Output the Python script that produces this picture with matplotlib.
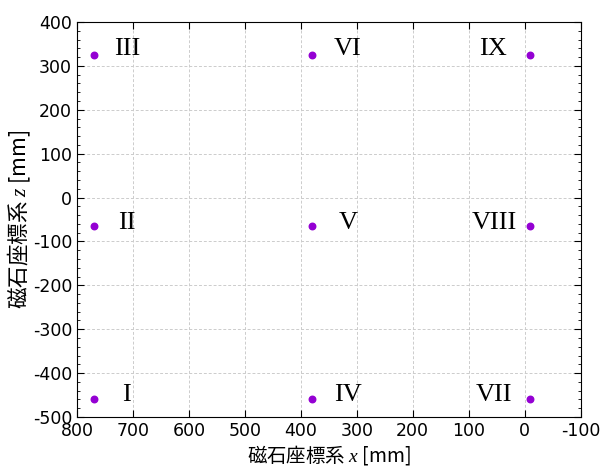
import matplotlib
matplotlib.use("Agg")
import matplotlib.pyplot as plt
from matplotlib.ticker import MultipleLocator

plt.rcParams['font.family'] = ['DejaVu Sans', 'Noto Sans CJK JP']
plt.rcParams['mathtext.fontset'] = 'custom'
plt.rcParams['mathtext.rm'] = 'Noto Sans CJK JP'
plt.rcParams['mathtext.it'] = 'Liberation Serif:italic'
plt.rcParams['axes.unicode_minus'] = False

# magnet positions (x, z) in mm
mag_x = [770, 770, 770, 380, 380, 380, -10, -10, -10]
mag_z = [-460, -65, 325, -460, -65, 325, -460, -65, 325]
labels = ["I", "II", "III", "IV", "V", "VI", "VII", "VIII", "IX"]
label_x = [711, 711, 711, 316, 316, 316, 54, 54, 56]
label_z = [-450, -57, 338, -450, -57, 338, -450, -57, 338]

fig, ax = plt.subplots(figsize=(6.01, 4.69), dpi=100)
fig.subplots_adjust(left=0.128, right=0.966, top=0.953, bottom=0.111)

ax.scatter(mag_x, mag_z, s=22, color='#9400d3', zorder=3)
for lx, lz, t in zip(label_x, label_z, labels):
    ax.text(lx, lz, t, ha='center', va='center', fontsize=19,
            family='Liberation Serif')

ax.set_xlim(800, -100)
ax.set_ylim(-500, 400)
ax.xaxis.set_major_locator(MultipleLocator(100))
ax.yaxis.set_major_locator(MultipleLocator(100))
ax.yaxis.set_minor_locator(MultipleLocator(20))
ax.tick_params(which='both', direction='in', top=True, right=True, labelsize=12.5)
ax.tick_params(which='major', length=5)
ax.tick_params(which='minor', length=2.5)
ax.grid(True, which='major', linestyle=(0, (3, 2)), color='#cccccc', linewidth=0.7)

ax.set_xlabel('磁石座標系 $x$ [mm]', fontsize=14, labelpad=2, family='Noto Sans CJK JP')
ax.set_ylabel('磁石座標系 $z$ [mm]', fontsize=15.5, family='Noto Sans CJK JP')
ax.yaxis.set_label_coords(-0.088, 0.5)

fig.savefig('out.png', dpi=100)
